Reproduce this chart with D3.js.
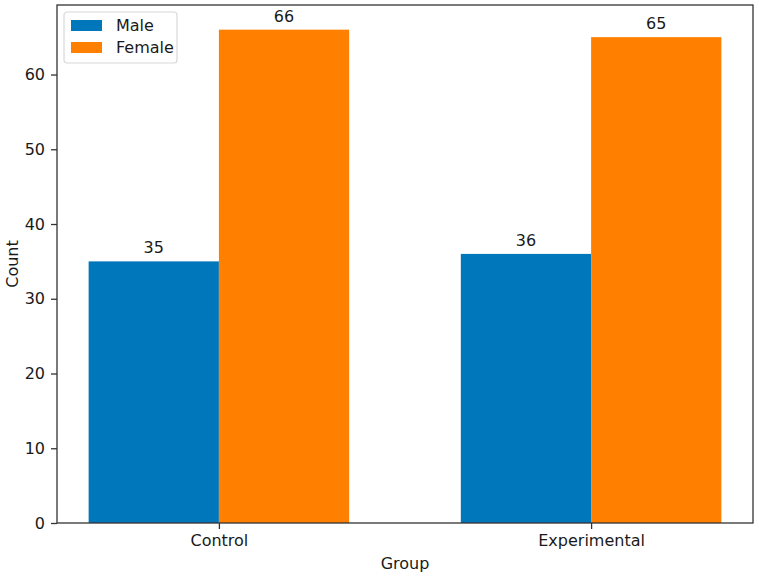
<!DOCTYPE html>
<html>
<head>
<meta charset="utf-8">
<script src="https://cdn.jsdelivr.net/npm/d3@7"></script>
<style>
  body { margin: 0; background: #fff; }
  text { font-family: "DejaVu Sans", sans-serif; fill: #1a1a1a; }
</style>
</head>
<body>
<div id="chart"></div>
<script>
// data
var groups = ["Control", "Experimental"];
var series = ["Male", "Female"];
var maleCounts = [35, 36];
var femaleCounts = [66, 65];
var yTicks = [0, 10, 20, 30, 40, 50, 60];
var colors = ["#0077bb", "#ff8000"];

var svgWidth = 759;
var svgHeight = 577;
var margin = { top: 5, right: 6, bottom: 54, left: 57 };
var width = svgWidth - margin.left - margin.right;
var height = svgHeight - margin.top - margin.bottom;

var svg = d3.select("#chart").append("svg")
  .attr("width", svgWidth)
  .attr("height", svgHeight);

var g = svg.append("g")
  .attr("transform", `translate(${margin.left}, ${margin.top})`);

// matplotlib-like: categories at 0,1, bar width 0.35, 5% margins
var barW = 0.35;
var xScale = d3.scaleLinear()
  .domain([-0.435, 1.435])
  .range([0, width]);

var yMax = d3.max(femaleCounts.concat(maleCounts)) * 1.05;
var yScale = d3.scaleLinear()
  .domain([0, yMax])
  .range([height, 0]);

var rows = [];
groups.forEach(function(grp, i) {
  rows.push({ group: grp, idx: i, s: 0, value: maleCounts[i] });
  rows.push({ group: grp, idx: i, s: 1, value: femaleCounts[i] });
});

// bars
g.selectAll(".bar")
  .data(rows)
  .enter()
  .append("rect")
  .attr("class", "bar")
  .attr("x", d => xScale(d.idx + (d.s === 0 ? -barW : 0)))
  .attr("width", d => xScale(barW) - xScale(0))
  .attr("y", d => yScale(d.value))
  .attr("height", d => height - yScale(d.value))
  .attr("fill", d => colors[d.s]);

// value labels
g.selectAll(".val")
  .data(rows)
  .enter()
  .append("text")
  .attr("class", "val")
  .attr("x", d => xScale(d.idx + (d.s === 0 ? -barW / 2 : barW / 2)))
  .attr("y", d => yScale(d.value) - 8)
  .attr("text-anchor", "middle")
  .attr("font-size", "16px")
  .text(d => d.value);

// axes
var leftAxis = d3.axisLeft(yScale).tickValues(yTicks).tickSize(6).tickPadding(6);
var bottomAxis = d3.axisBottom(xScale).tickValues([0, 1])
  .tickFormat(d => groups[d]).tickSize(6).tickPadding(6);

var yAxisG = g.append("g").call(leftAxis);
var xAxisG = g.append("g")
  .attr("transform", `translate(0, ${height})`)
  .call(bottomAxis);

[yAxisG, xAxisG].forEach(function(a) {
  a.select(".domain").remove();
  a.selectAll("line").attr("stroke", "#333").attr("stroke-width", 1.3);
  a.selectAll("text").attr("font-size", "16px").attr("fill", "#1a1a1a")
    .style("font-family", "DejaVu Sans, sans-serif");
});

// frame
g.append("rect")
  .attr("width", width)
  .attr("height", height)
  .attr("fill", "none")
  .attr("stroke", "#333")
  .attr("stroke-width", 1.3);

// axis titles
svg.append("text")
  .attr("transform", `translate(18, ${margin.top + height / 2}) rotate(-90)`)
  .attr("text-anchor", "middle")
  .attr("font-size", "16px")
  .text("Count");

svg.append("text")
  .attr("x", margin.left + width / 2)
  .attr("y", 569)
  .attr("text-anchor", "middle")
  .attr("font-size", "16px")
  .text("Group");

// legend
var legend = svg.append("g").attr("transform", "translate(64, 12)");
legend.append("rect")
  .attr("width", 113)
  .attr("height", 51)
  .attr("rx", 3)
  .attr("fill", "#fff")
  .attr("fill-opacity", 0.8)
  .attr("stroke", "#d8d8d8")
  .attr("stroke-width", 1.2);

var items = legend.selectAll(".item")
  .data(series)
  .enter()
  .append("g")
  .attr("transform", (d, i) => `translate(7, ${8 + i * 22})`);

items.append("rect")
  .attr("width", 31)
  .attr("height", 11)
  .attr("fill", (d, i) => colors[i]);

items.append("text")
  .attr("x", 45)
  .attr("y", 11)
  .attr("font-size", "16px")
  .text(d => d);
</script>
</body>
</html>
